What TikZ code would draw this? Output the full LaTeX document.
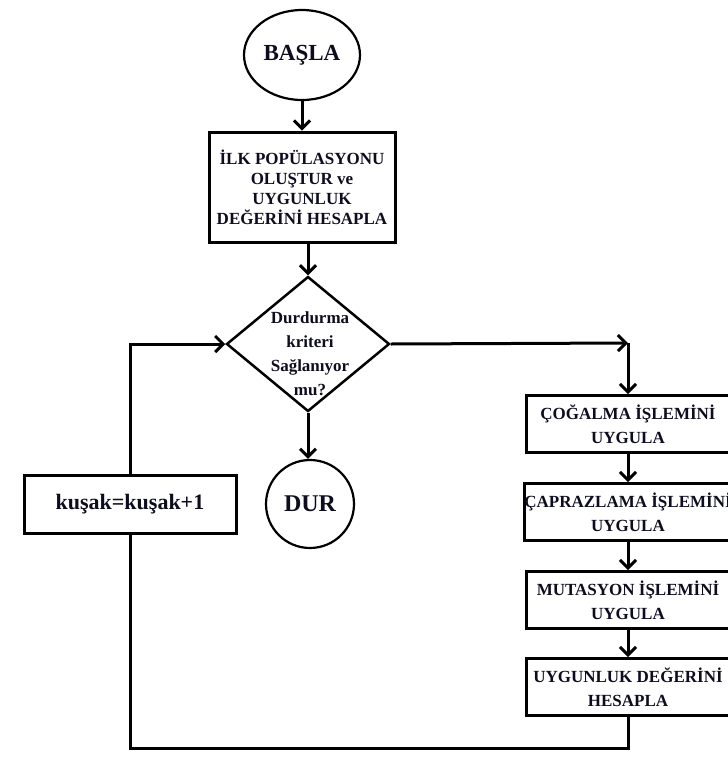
\documentclass[tikz,border=0pt]{standalone}
\usepackage{fontspec}
\setmainfont{Liberation Serif}
\usetikzlibrary{arrows.meta,shapes.geometric}
\definecolor{LineClr}{rgb}{0,0,0}
\definecolor{TextClr}{rgb}{0.05,0.05,0.12}

\begin{document}
\begin{tikzpicture}[x=1pt,y=-1pt,
  terminal/.style={draw=LineClr,line width=2.2pt,ellipse,inner sep=0pt,text=TextClr},
  process/.style={draw=LineClr,line width=3pt,rectangle,align=center,inner sep=0pt,text=TextClr,
    font=\bfseries\fontsize{17}{24}\selectfont},
  decision/.style={draw=LineClr,line width=2.5pt,diamond,inner sep=0pt},
  flow/.style={draw=LineClr,line width=3pt,-{Straight Barb[length=8pt,width=16pt]}},
  link/.style={draw=LineClr,line width=3pt}]
\useasboundingbox (0,0) rectangle (728,761);
\clip (0,0) rectangle (728,761);

\node[terminal,minimum width=116,minimum height=90,font=\bfseries\fontsize{23}{28}\selectfont] (basla) at (302,55) {BAŞLA};
\node[process,minimum width=186,minimum height=110,font=\bfseries\fontsize{17}{20}\selectfont] (init) at (302,187) {İLK POPÜLASYONU\\OLUŞTUR ve\\UYGUNLUK\\DEĞERİNİ HESAPLA};
\node[decision,minimum width=163,minimum height=135] (crit) at (308,344) {};
\node[align=center,text=TextClr,font=\bfseries\fontsize{17}{24}\selectfont] (critText) at (310,354) {Durdurma\\kriteri\\Sağlanıyor\\mu?};
\node[terminal,minimum size=88,font=\bfseries\fontsize{24}{28}\selectfont] (dur) at (310,504) {DUR};
\node[process,minimum width=212,minimum height=58,font=\bfseries\fontsize{22}{26}\selectfont] (kusak) at (130,504) {kuşak=kuşak+1};

\node[process,minimum width=204,minimum height=57] (cog) at (628,424) {ÇOĞALMA İŞLEMİNİ\\UYGULA};
\node[process,minimum width=204,minimum height=57] (capr) at (628,512) {ÇAPRAZLAMA İŞLEMİNİ\\UYGULA};
\node[process,minimum width=204,minimum height=57] (mut) at (628,600) {MUTASYON İŞLEMİNİ\\UYGULA};
\node[process,minimum width=204,minimum height=57] (fit) at (628,687) {UYGUNLUK DEĞERİNİ\\HESAPLA};

\coordinate (split) at (628,343);
\coordinate (loop) at (130,748);

\draw[flow] (basla) -- (init);
\draw[flow] (init.south -| crit.north) -- (crit.north);
\draw[flow] (crit.south) -- (dur.north -| crit.south);
\draw[flow] (crit.east) -- (split);
\draw[flow] (split) -- (cog.north);
\draw[flow] (cog) -- (capr);
\draw[flow] (capr) -- (mut);
\draw[flow] (mut) -- (fit);
\draw[link] (fit.south) |- (loop) -- (kusak.south);
\draw[flow] (kusak.north) |- (crit.west);

\end{tikzpicture}
\end{document}
